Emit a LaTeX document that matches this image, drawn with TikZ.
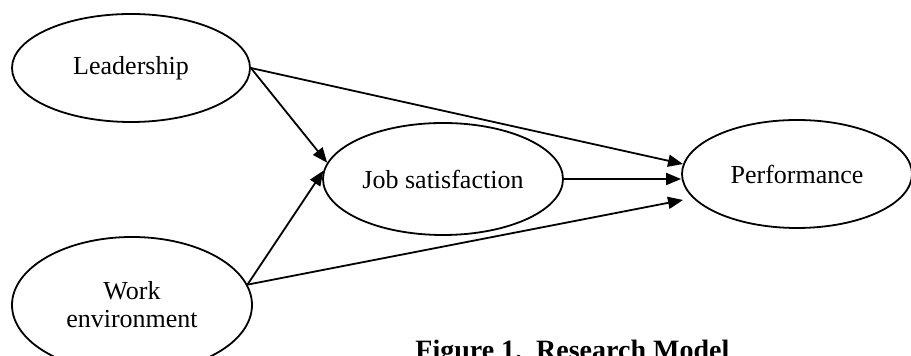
\documentclass[tikz,border=0pt]{standalone}
\usepackage{fontspec}
\setmainfont{Liberation Serif}
\usetikzlibrary{shapes.geometric,arrows.meta}

\begin{document}
\begin{tikzpicture}[x=0.5pt,y=-0.5pt,
	var/.style={draw, ellipse, line width=0.9pt, inner sep=0pt, align=center, font=\fontsize{13}{14}\selectfont},
	path/.style={-{Triangle[length=7.5pt,width=6pt]}, line width=0.9pt}]
	\useasboundingbox (0,0) rectangle (911,356);
	%constructs
	\node[var, minimum width=119pt, minimum height=54pt] (lead) at (131,68) {Leadership};
	\node[var, minimum width=120pt, minimum height=56pt] (jsat) at (443,179) {Job satisfaction};
	\node[var, minimum width=115pt, minimum height=54pt] (perf) at (797,174) {Performance};
	\node[var, minimum width=120pt, minimum height=68pt] (wenv) at (132,305) {Work\\environment};
	%paths
	\draw[path] (lead.east) -- (jsat.172);
	\draw[path] (lead.east) -- (perf.175);
	\draw[path] (wenv.10) -- (jsat.176);
	\draw[path] (jsat.east) -- (jsat.east -| perf.west);
	\draw[path, shorten >=5pt] (wenv.10) -- (perf.193);
	%caption
	\node[anchor=base west, inner sep=0pt, font=\fontsize{14}{16}\selectfont\bfseries] (fig) at (415,360) {Figure 1.~~Research Model};
\end{tikzpicture}
\end{document}
